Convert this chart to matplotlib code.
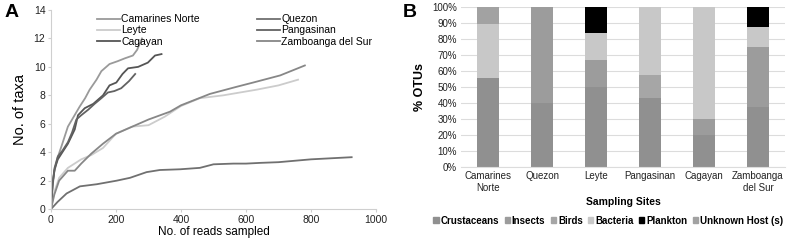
import numpy as np
import matplotlib
matplotlib.use("Agg")
import matplotlib.pyplot as plt
from matplotlib.patches import Patch

plt.rcParams['font.family'] = ['Liberation Sans', 'DejaVu Sans']

# Panel A: rarefaction curves (reads sampled vs taxa)
cam_x = [0, 5, 10, 20, 32, 52, 70, 88, 105, 119, 140, 155, 180, 205, 227, 252, 265, 280]
cam_y = [0, 1.6, 2.6, 3.6, 4.4, 5.8, 6.5, 7.2, 7.8, 8.4, 9.1, 9.7, 10.2, 10.4, 10.6, 10.8, 11.2, 12.0]

ley_x = [0, 10, 25, 52, 93, 124, 160, 200, 250, 300, 350, 400, 458, 530, 633, 700, 760]
ley_y = [0, 1.2, 2.2, 2.9, 3.5, 3.8, 4.3, 5.3, 5.8, 5.9, 6.5, 7.25, 7.8, 8.0, 8.4, 8.7, 9.1]

cag_x = [0, 5, 11, 21, 35, 52, 73, 83, 104, 130, 160, 180, 201, 220, 237, 268, 298, 320, 340]
cag_y = [0, 1.8, 2.8, 3.5, 4.0, 4.6, 5.6, 6.6, 7.1, 7.4, 8.0, 8.7, 8.9, 9.5, 9.9, 10.0, 10.3, 10.8, 10.9]

que_x = [0, 20, 48, 89, 141, 202, 243, 294, 335, 397, 458, 500, 561, 600, 643, 700, 800, 925]
que_y = [0, 0.5, 1.1, 1.6, 1.75, 2.0, 2.2, 2.6, 2.75, 2.8, 2.9, 3.15, 3.2, 3.2, 3.25, 3.3, 3.5, 3.65]

pan_x = [0, 5, 11, 21, 35, 52, 65, 78, 93, 115, 134, 155, 175, 195, 216, 240, 259]
pan_y = [0, 1.8, 2.9, 3.7, 4.1, 4.7, 5.4, 6.3, 6.6, 7.0, 7.4, 7.8, 8.2, 8.3, 8.5, 9.0, 9.5]

zam_x = [0, 10, 25, 52, 73, 93, 124, 160, 200, 250, 300, 366, 400, 489, 571, 622, 705, 781]
zam_y = [0, 1.0, 2.0, 2.7, 2.7, 3.2, 3.9, 4.6, 5.3, 5.8, 6.3, 6.85, 7.3, 8.1, 8.6, 8.9, 9.4, 10.1]

site_names = ["Camarines Norte", "Leyte", "Cagayan", "Quezon", "Pangasinan", "Zamboanga del Sur"]
line_colors = ["#9a9a9a", "#cccccc", "#555555", "#707070", "#626262", "#878787"]

# Panel B: % OTUs per host group at each site
sites = ["Camarines\nNorte", "Quezon", "Leyte", "Pangasinan", "Cagayan", "Zamboanga\ndel Sur"]
groups = ["Crustaceans", "Insects", "Birds", "Bacteria", "Plankton", "Unknown Host (s)"]
crustaceans = [55.6, 40.0, 50.0, 42.9, 20.0, 37.5]
insects = [0, 60.0, 16.7, 0, 10.0, 37.5]
birds = [0, 0, 0, 14.2, 0, 0]
bacteria = [33.3, 0, 16.6, 42.9, 70.0, 12.5]
plankton = [0, 0, 16.7, 0, 0, 12.5]
unknown = [11.1, 0, 0, 0, 0, 0]
group_colors = ["#909090", "#9c9c9c", "#a6a6a6", "#c8c8c8", "#000000", "#a2a2a2"]

fig = plt.figure(figsize=(7.87, 2.44), dpi=100)

# ---- A ----
axA = fig.add_axes([0.0648, 0.143, 0.413, 0.816])
curves = [(cam_x, cam_y), (ley_x, ley_y), (cag_x, cag_y), (que_x, que_y), (pan_x, pan_y), (zam_x, zam_y)]
for (xs, ys), name, c in zip(curves, site_names, line_colors):
    axA.plot(xs, ys, color=c, lw=1.3, label=name)
axA.set_xlim(0, 1000)
axA.set_ylim(0, 14)
axA.set_xticks(range(0, 1001, 200))
axA.set_yticks(range(0, 15, 2))
for s in ["top", "right"]:
    axA.spines[s].set_visible(False)
for s in ["left", "bottom"]:
    axA.spines[s].set_color("#cfcfcf")
axA.tick_params(labelsize=7.5, colors="#cfcfcf", labelcolor="#222222", length=2, pad=2)
axA.set_xlabel("No. of reads sampled", fontsize=8.5, labelpad=1)
axA.set_ylabel("No. of taxa", fontsize=10.5, labelpad=5)
axA.legend(ncol=2, loc="upper left", bbox_to_anchor=(0.13, 1.0), frameon=False,
           fontsize=7.5, handlelength=2.2, handletextpad=0.1, labelspacing=0.12,
           columnspacing=5.5, borderaxespad=0)
fig.text(0.006, 0.985, "A", fontsize=14, fontweight="bold", va="top")

# ---- B ----
axB = fig.add_axes([0.5858, 0.316, 0.4117, 0.657])
pos = np.arange(len(sites))
bottom = np.zeros(len(sites))
for vals, g, c in zip([crustaceans, insects, birds, bacteria, plankton, unknown], groups, group_colors):
    axB.bar(pos, vals, width=0.4, bottom=bottom, color=c, label=g, zorder=2)
    bottom += np.array(vals)
axB.set_xlim(-0.5, len(sites) - 0.5)
axB.set_ylim(0, 100)
axB.set_yticks(range(0, 101, 10))
axB.set_yticklabels([f"{v}%" for v in range(0, 101, 10)])
axB.set_xticks(pos)
axB.set_xticklabels(sites)
axB.grid(axis="y", color="#dcdcdc", lw=0.8, zorder=0)
for s in ["top", "right", "left"]:
    axB.spines[s].set_visible(False)
axB.spines["bottom"].set_color("#dcdcdc")
axB.tick_params(labelsize=7, length=0, pad=3, labelcolor="#222222")
axB.set_xlabel("Sampling Sites", fontsize=7.5, fontweight="bold", labelpad=3)
axB.set_ylabel("% OTUs", fontsize=9, fontweight="bold", labelpad=4)
handles = [Patch(color=c) for c in group_colors]
fig.legend(handles, groups, loc="center", bbox_to_anchor=(0.773, 0.095), ncol=6,
           frameon=False, prop={"size": 7, "weight": "bold"}, handlelength=0.55,
           handleheight=0.55, handletextpad=0.2, columnspacing=0.55, borderaxespad=0)
fig.text(0.512, 0.985, "B", fontsize=14, fontweight="bold", va="top")

fig.savefig("out.png", dpi=100)
